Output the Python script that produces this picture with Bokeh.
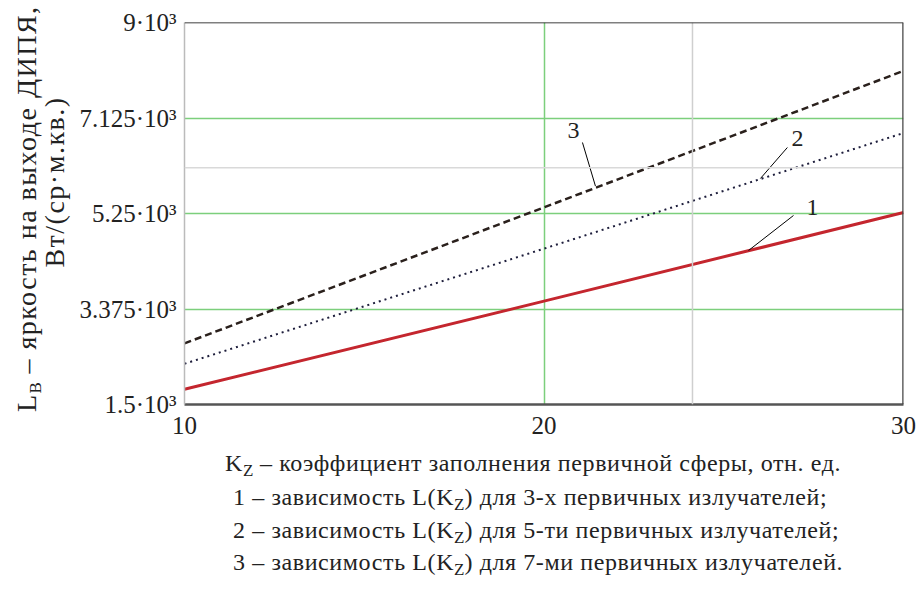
from bokeh.plotting import figure
from bokeh.models import Range1d, FixedTicker, Span, Div
from bokeh.layouts import row, column
from bokeh.core.properties import value
from bokeh.embed import file_html
from bokeh.resources import INLINE

# ---- data ----
kz = [10, 20, 30]
L1 = [1800, 3530, 5270]   # 3 primary emitters (solid red)
L2 = [2300, 4560, 6830]   # 5 primary emitters (dotted)
L3 = [2700, 5370, 8050]   # 7 primary emitters (dashed)

x_ticks = [10, 20, 30]
x_tick_labels = ["10", "20", "30"]
y_ticks = [1500, 3375, 5250, 7125, 9000]
y_tick_labels = ["1.5·10³", "3.375·10³", "5.25·10³", "7.125·10³", "9·10³"]
x_grid = [20]
y_grid = [3375, 5250, 7125]

marker_x = 24.13
marker_y = 6150

curve_ids = ["1", "2", "3"]
label_kz = [27.47, 27.05, 20.82]
label_L = [5368, 6723, 6880]
leader_kz0 = [26.94, 26.77, 21.07]
leader_L0 = [5211, 6546, 6644]
leader_kz1 = [25.69, 26.02, 21.43]
leader_L1 = [4524, 5937, 5790]

y_title_1 = ("L", "B", " – яркость на выходе ДИПЯ,")
y_title_2 = "Вт/(ср·м.кв.)"
x_title = ("K", "Z", " – коэффициент заполнения первичной сферы, отн. ед.")
legend_rows = [("1 – зависимость L(K", "Z", ") для 3-х первичных излучателей;"),
               ("2 – зависимость L(K", "Z", ") для 5-ти первичных излучателей;"),
               ("3 – зависимость L(K", "Z", ") для 7-ми первичных излучателей.")]

FONT = "Liberation Serif"
CSSFONT = "font-family:Liberation Serif,Times New Roman,serif;"
YW = 70            # width of the rotated y-title block
TOPH = 440         # height of the plot row
PW = 921 - YW
X0, X1, Y0, Y1 = 10, 30, 1500, 9000

p = figure(width=PW, height=TOPH, x_range=Range1d(X0, X1), y_range=Range1d(Y0, Y1),
           output_backend="svg", toolbar_location=None,
           min_border_left=184 - YW, min_border_right=18, min_border_top=22,
           min_border_bottom=TOPH - 22 - 382)
p.outline_line_color = None
p.background_fill_color = "white"
p.border_fill_color = "white"

p.xaxis.ticker = FixedTicker(ticks=x_ticks)
p.xaxis.major_label_overrides = dict(zip(x_ticks, x_tick_labels))
p.yaxis.ticker = FixedTicker(ticks=y_ticks)
p.yaxis.major_label_overrides = dict(zip(y_ticks, y_tick_labels))
for ax in (p.xaxis, p.yaxis):
    ax.major_tick_line_color = None
    ax.minor_tick_line_color = None
    ax.major_label_text_font = FONT
    ax.major_label_text_font_size = "25px"
    ax.major_label_text_color = "#222222"
p.xaxis.axis_line_color = "#555555"
p.xaxis.axis_line_width = 2.5
p.xaxis.major_label_standoff = 6
p.yaxis.axis_line_color = "#bbbbbb"
p.yaxis.axis_line_width = 1.5
p.yaxis.major_label_standoff = 2

p.xgrid.ticker = FixedTicker(ticks=x_grid)
p.ygrid.ticker = FixedTicker(ticks=y_grid)
for g in (p.xgrid, p.ygrid):
    g.grid_line_color = "#7ccf7c"
    g.grid_line_width = 1.5

p.add_layout(Span(location=marker_x, dimension="height", line_color="#cfcfcf", line_width=1.5))
p.add_layout(Span(location=marker_y, dimension="width", line_color="#d9d9d9", line_width=1.5))
p.add_layout(Span(location=Y1, dimension="width", line_color="black", line_width=1.5))
p.add_layout(Span(location=X1, dimension="height", line_color="#444444", line_width=2.5))

p.line(kz, L1, line_color="#c4262e", line_width=3)
p.line(kz, L2, line_color="#1e1e3c", line_width=2, line_dash="2 4")
p.line(kz, L3, line_color="#2a201c", line_width=2.5, line_dash="7 4")

p.segment(x0=leader_kz0, y0=leader_L0, x1=leader_kz1, y1=leader_L1, line_color="black", line_width=1)
p.text(x=label_kz, y=label_L, text=curve_ids, text_font=value(FONT), text_font_size="24px",
       text_align="center", text_baseline="middle", text_color="#222222")

SUB = 'style="font-size:17px;vertical-align:-5px;line-height:0;letter-spacing:0"'

# rotated y-axis title
TS = f"{CSSFONT}font-size:28px;letter-spacing:1.5px;color:#222;line-height:30px;white-space:nowrap;"
yt = (f'<div style="position:relative;width:{YW}px;height:{TOPH}px;overflow:visible;">'
      f'<div style="position:absolute;left:{(YW - TOPH) // 2}px;top:{(TOPH - YW) // 2}px;width:{TOPH}px;'
      f'height:{YW}px;transform:rotate(-90deg);transform-origin:50% 50%;">'
      f'<div style="position:absolute;left:28px;top:12px;{TS}">'
      f'{y_title_1[0]}<sub {SUB}>{y_title_1[1]}</sub>{y_title_1[2]}</div>'
      f'<div style="position:absolute;left:258px;top:40px;transform:translateX(-50%);{TS}">{y_title_2}</div>'
      f'</div></div>')
ydiv = Div(text=yt, width=YW, height=TOPH, margin=0, styles={"font-family": "Liberation Serif"})

# caption under the plot
CS = f"{CSSFONT}font-size:24px;letter-spacing:0.6px;color:#222;line-height:34px;white-space:nowrap;"
lines = [(225, 463, x_title)] + [(233, yy, r) for yy, r in zip([497, 530, 562], legend_rows)]
cap_parts = []
for lx, cy, (a, s, b) in lines:
    top = cy - TOPH - 17
    cap_parts.append(f'<div style="position:absolute;left:{lx}px;top:{top}px;{CS}">'
                     f'{a}<sub {SUB}>{s}</sub>{b}</div>')
cap = f'<div style="position:relative;width:921px;height:{591 - TOPH}px;">' + "".join(cap_parts) + '</div>'
cdiv = Div(text=cap, width=921, height=591 - TOPH, margin=0, styles={"font-family": "Liberation Serif"})

layout = column(row(ydiv, p), cdiv)
open("out.html", "w").write(file_html(layout, INLINE))
